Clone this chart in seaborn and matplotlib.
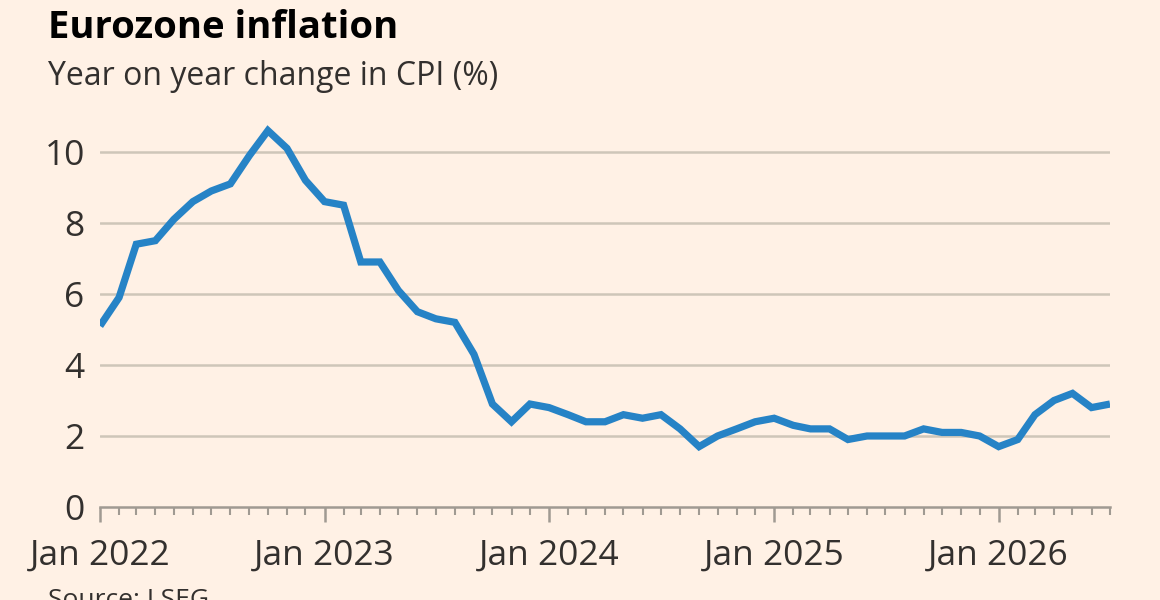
import pandas as pd
import numpy as np
import matplotlib
matplotlib.use("Agg")
import matplotlib.pyplot as plt
import matplotlib.dates as mdates
import seaborn as sns

# Monthly eurozone CPI, year on year (%), Jan 2022 - Jul 2026
start_month = "2022-01-01"
cpi_2022 = [5.1, 5.9, 7.4, 7.5, 8.1, 8.6, 8.9, 9.1, 9.9, 10.6, 10.1, 9.2]
cpi_2023 = [8.6, 8.5, 6.9, 6.9, 6.1, 5.5, 5.3, 5.2, 4.3, 2.9, 2.4, 2.9]
cpi_2024 = [2.8, 2.6, 2.4, 2.4, 2.6, 2.5, 2.6, 2.2, 1.7, 2.0, 2.2, 2.4]
cpi_2025 = [2.5, 2.3, 2.2, 2.2, 1.9, 2.0, 2.0, 2.0, 2.2, 2.1, 2.1, 2.0]
cpi_2026 = [1.7, 1.9, 2.6, 3.0, 3.2, 2.8, 2.9]

values = cpi_2022 + cpi_2023 + cpi_2024 + cpi_2025 + cpi_2026
dates = pd.date_range(start_month, periods=len(values), freq="MS")
df = pd.DataFrame({"date": dates, "cpi": values})

BG = "#FFF1E5"
LINE = "#2683C6"
GRID = "#CEC6B9"
AXIS = "#A09A92"
TEXT = "#33302E"

sns.set_style("white")
plt.rcParams["font.family"] = ["Open Sans", "DejaVu Sans"]

fig = plt.figure(figsize=(11.6, 6), dpi=100, facecolor=BG)
ax = fig.add_axes([0.0862, 0.155, 0.8707, 0.651])
ax.set_facecolor(BG)

sns.lineplot(data=df, x="date", y="cpi", ax=ax, color=LINE, linewidth=5.2,
             solid_joinstyle="miter", solid_capstyle="butt", zorder=3)

ax.set_xlim(dates[0], dates[-1])
ax.set_ylim(0, 11)
ax.set_yticks([0, 2, 4, 6, 8, 10])
for y in [2, 4, 6, 8, 10]:
    ax.axhline(y, color=GRID, linewidth=1.8, zorder=1)

ax.xaxis.set_major_locator(mdates.YearLocator(month=1, day=1))
ax.xaxis.set_major_formatter(mdates.DateFormatter("%b %Y"))
ax.xaxis.set_minor_locator(mdates.MonthLocator())

for s in ["top", "right", "left"]:
    ax.spines[s].set_visible(False)
ax.spines["bottom"].set_color(AXIS)
ax.spines["bottom"].set_linewidth(1.8)

ax.tick_params(axis="y", left=False, length=0, pad=11, labelsize=25.5,
               labelcolor=TEXT)
ax.tick_params(axis="x", which="major", bottom=True, length=11, width=1.8,
               color=AXIS, pad=12, labelsize=25.5, labelcolor=TEXT)
ax.tick_params(axis="x", which="minor", bottom=True, length=6, width=1.5,
               color=AXIS)
ax.set_xlabel("")
ax.set_ylabel("")

fig.text(0.0414, 0.953, "Eurozone inflation", fontsize=27.5, fontweight="bold",
         color="#000000", ha="left", va="center")
fig.text(0.0414, 0.873, "Year on year change in CPI (%)", fontsize=23,
         color=TEXT, ha="left", va="center")
fig.text(0.0414, 0.02, "Source: LSEG", fontsize=19, color=TEXT,
         ha="left", va="top")

fig.savefig("out.png", dpi=100, facecolor=BG)
